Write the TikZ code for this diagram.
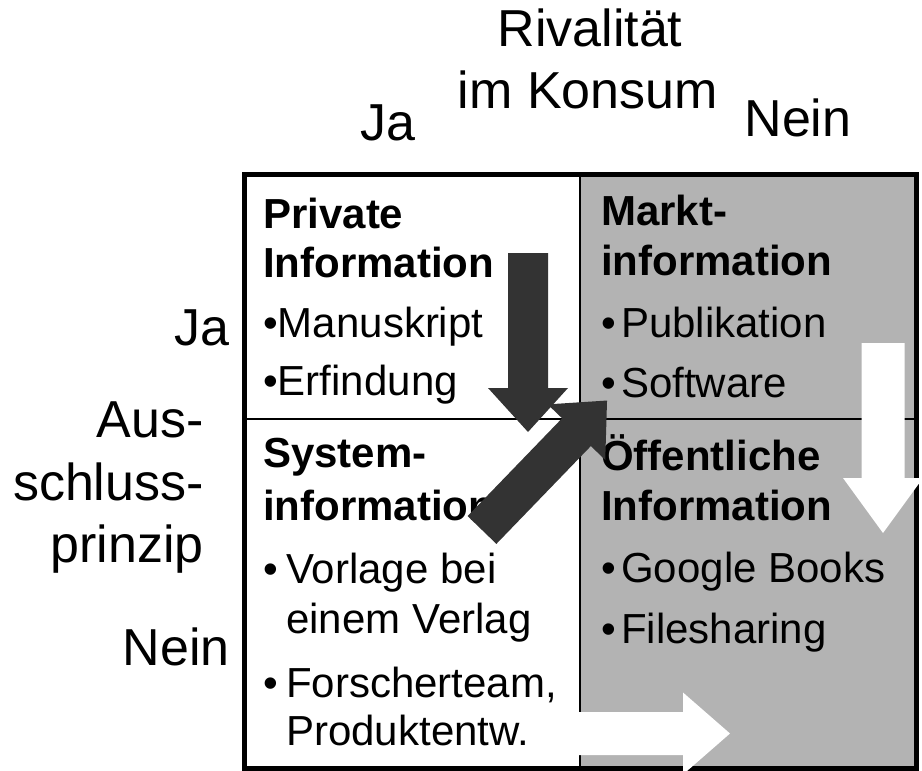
\documentclass[tikz,border=0pt]{standalone}
\usepackage{fontspec}
\setmainfont{Liberation Sans}
\definecolor{cellgray}{HTML}{B3B3B3}
\definecolor{arrowdark}{HTML}{333333}
% block arrow: tail (x,y), angle, length, shaft width, head width, head length, colour
\newcommand\blkarrow[8]{%
  \fill[#8, shift={(#1,#2)}, rotate=#3]
    (0,-#5/2) -- ({#4-#7},-#5/2) -- ({#4-#7},-#6/2) -- (#4,0)
    -- ({#4-#7},#6/2) -- ({#4-#7},#5/2) -- (0,#5/2) -- cycle;}
\begin{document}
\begin{tikzpicture}[x=0.75pt, y=-0.75pt,
  biglabel/.style={inner sep=0, font=\fontsize{39}{39}\selectfont},
  cellhead/.style={inner sep=0, anchor=base west, font=\fontsize{31.5}{31.5}\selectfont\bfseries},
  cellitem/.style={inner sep=0, anchor=base west, font=\fontsize{31.5}{31.5}\selectfont},
  thinrule/.style={line width=1.9pt},
  thickrule/.style={line width=3.75pt}]
\useasboundingbox (0,0) rectangle (922,771);

% shaded right column and grid
\fill[cellgray] (580,174) rectangle (916,768);
\draw[thinrule] (580,174) -- (580,768);
\draw[thinrule] (244,419) -- (916,419);
\draw[thickrule] (244,174) rectangle (916,768);

% column header
\node[biglabel, anchor=base] (riv) at (590,46) {Rivalität};
\node[biglabel, anchor=base] (kon) at (588,108) {im Konsum};
\node[biglabel, anchor=base] (colja) at (388,140) {Ja};
\node[biglabel, anchor=base] (colnein) at (798,136) {Nein};

% row header
\node[biglabel, anchor=base east] (rowja) at (230,345) {Ja};
\node[biglabel, anchor=base east] (aus) at (204,437) {Aus-};
\node[biglabel, anchor=base east] (schl) at (204,500) {schluss-};
\node[biglabel, anchor=base east] (prin) at (204,562) {prinzip};
\node[biglabel, anchor=base east] (rownein) at (230,665) {Nein};

% top left cell
\node[cellhead] (tl1) at (263,228) {Private};
\node[cellhead] (tl2) at (263,277) {Information};
\node[cellitem] (tl3) at (263,337) {•Manuskript};
\node[cellitem] (tl4) at (263,395) {•Erfindung};

% top right cell
\node[cellhead] (tr1) at (601,225) {Markt-};
\node[cellhead] (tr2) at (601,275) {information};
\node[cellitem] (trb1) at (601,337) {•};
\node[cellitem] (tr3) at (621,337) {Publikation};
\node[cellitem] (trb2) at (601,397) {•};
\node[cellitem] (tr4) at (621,397) {Software};

% bottom left cell
\node[cellhead] (bl1) at (263,467) {System-};
\node[cellhead] (bl2) at (263,520) {information};
\node[cellitem] (blb1) at (263,583) {•};
\node[cellitem] (bl3) at (286,583) {Vorlage bei};
\node[cellitem] (bl4) at (286,633) {einem Verlag};
\node[cellitem] (blb2) at (263,697) {•};
\node[cellitem] (bl5) at (286,697) {Forscherteam,};
\node[cellitem] (bl6) at (286,745) {Produktentw.};

% bottom right cell
\node[cellhead] (br1) at (601,470) {Öffentliche};
\node[cellhead] (br2) at (601,520) {Information};
\node[cellitem] (brb1) at (601,582) {•};
\node[cellitem] (br3) at (621,582) {Google Books};
\node[cellitem] (brb2) at (601,643) {•};
\node[cellitem] (br4) at (621,643) {Filesharing};

% block arrows
\blkarrow{528}{253}{-90}{179}{40}{80}{44}{arrowdark}
\blkarrow{482}{530}{46}{180}{40}{80}{44}{arrowdark}
\blkarrow{883}{343}{-90}{190}{43}{80}{55}{white}
\blkarrow{545}{733.5}{0}{185}{43}{82}{47}{white}
\end{tikzpicture}
\end{document}
